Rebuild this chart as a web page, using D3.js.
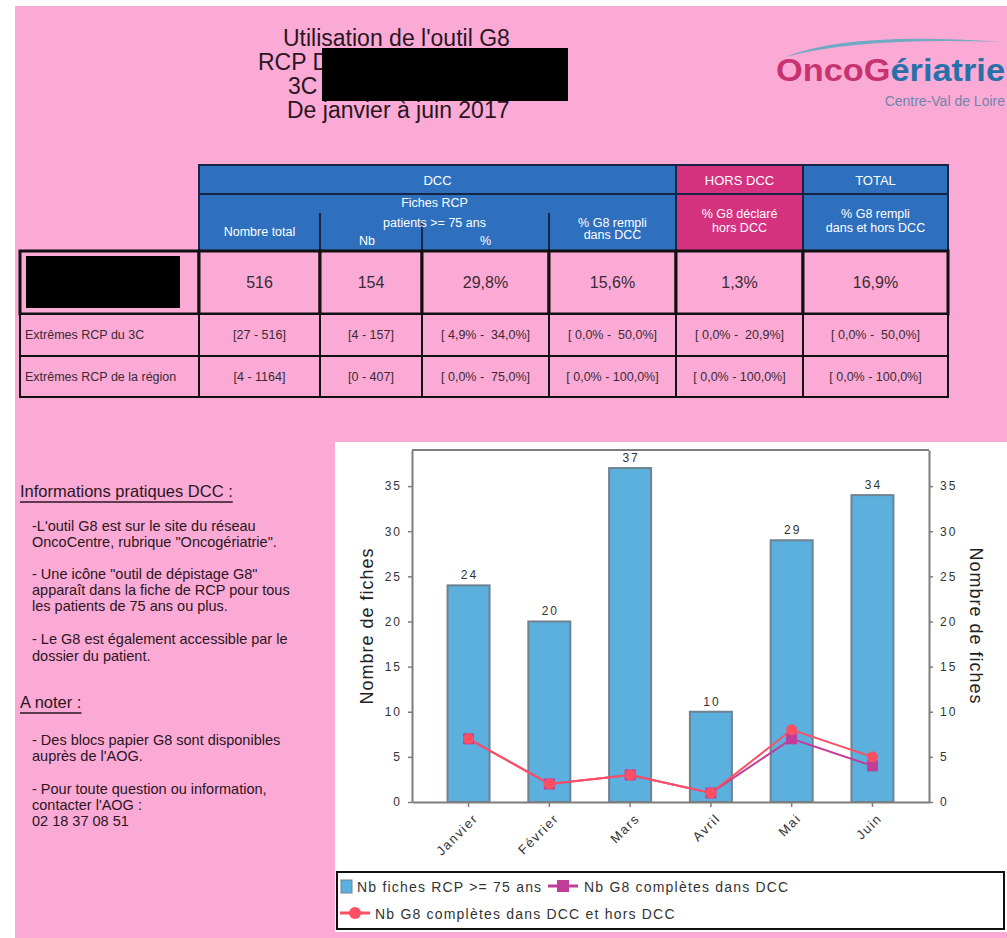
<!DOCTYPE html>
<html>
<head>
<meta charset="utf-8">
<script src="https://cdn.jsdelivr.net/npm/d3@7"></script>
<style>
body { margin: 0; background: #fff; }
text { font-family: 'Liberation Sans', Arial, sans-serif; white-space: pre; }
</style>
</head>
<body>
<svg id="page" width="1007" height="938"></svg>
<script>
// chart data
var months = ["Janvier", "Février", "Mars", "Avril", "Mai", "Juin"];
var fichesRCP = [24, 20, 37, 10, 29, 34];
var g8Dcc = [7, 2, 3, 1, 7, 4];
var g8DccHors = [7, 2, 3, 1, 8, 5];
var yTicks = [0, 5, 10, 15, 20, 25, 30, 35];
var legendLabels = ["Nb fiches RCP >= 75 ans", "Nb G8 complètes dans DCC", "Nb G8 complètes dans DCC et hors DCC"];

// table data
var rowLabels = ["", "Extrêmes RCP du 3C", "Extrêmes RCP de la région"];
var nombreTotal = ["516", "[27 - 516]", "[4 - 1164]"];
var nbPatients = ["154", "[4 - 157]", "[0 - 407]"];
var pctPatients = ["29,8%", "[ 4,9% -  34,0%]", "[ 0,0% -  75,0%]"];
var pctG8Dcc = ["15,6%", "[ 0,0% -  50,0%]", "[ 0,0% - 100,0%]"];
var pctG8Hors = ["1,3%", "[ 0,0% -  20,9%]", "[ 0,0% - 100,0%]"];
var pctG8Total = ["16,9%", "[ 0,0% -  50,0%]", "[ 0,0% - 100,0%]"];

// texts
var titleLines = ["Utilisation de l'outil G8", "RCP D", "3C", "De janvier à juin 2017"];
var infoLines = [
	"-L'outil G8 est sur le site du réseau",
	"OncoCentre, rubrique \"Oncogériatrie\".",
	"- Une icône \"outil de dépistage G8\"",
	"apparaît dans la fiche de RCP pour tous",
	"les patients de 75 ans ou plus.",
	"- Le G8 est également accessible par le",
	"dossier du patient."
];
var noteLines = [
	"- Des blocs papier G8 sont disponibles",
	"auprès de l'AOG.",
	"- Pour toute question ou information,",
	"contacter l'AOG :",
	"02 18 37 08 51"
];

var PINK = "#fbaad6",
	BLUE = "#2e70be",
	MAGENTA = "#d4327f",
	INK = "#2a1622";

var svg = d3.select("#page");

// page background
svg.append("rect")
	.attr("x", 15).attr("y", 6)
	.attr("width", 992).attr("height", 932)
	.attr("fill", PINK);

// ---------- title ----------
var titleX = [283, 258, 288, 287];
svg.selectAll("text.title")
	.data(titleLines)
	.enter()
	.append("text")
	.attr("class", "title")
	.attr("x", function(d, i) { return titleX[i]; })
	.attr("y", function(d, i) { return 46 + i * 24; })
	.style("font-size", "23px")
	.attr("fill", INK)
	.text(function(d) { return d; });

// redaction box
svg.append("rect")
	.attr("x", 322).attr("y", 48)
	.attr("width", 246).attr("height", 53)
	.attr("fill", "#000");

// ---------- logo ----------
svg.append("path")
	.attr("d", "M785,57 Q850,31 1000,42 Q860,37 785,57 Z")
	.attr("fill", "#4fa7bd")
	.attr("opacity", 0.8);

var logo = svg.append("text")
	.attr("x", 776).attr("y", 81)
	.style("font-size", "31px")
	.style("font-weight", "bold")
	.attr("textLength", 229)
	.attr("lengthAdjust", "spacingAndGlyphs");
logo.append("tspan").attr("fill", "#c7336f").text("OncoG");
logo.append("tspan").attr("fill", "#2671a8").text("ériatrie");

svg.append("text")
	.attr("x", 1005).attr("y", 106)
	.attr("text-anchor", "end")
	.style("font-size", "14px")
	.attr("fill", "#6f86a6")
	.text("Centre-Val de Loire");

// ---------- table ----------
var colX = [20, 199, 320, 422, 549, 676, 803, 948];
var rowY = [251, 314, 356, 397];
var colValues = [nombreTotal, nbPatients, pctPatients, pctG8Dcc, pctG8Hors, pctG8Total];
var headLine = "#172443";

var head1 = [
	{ label: "DCC", x0: colX[1], x1: colX[5], fill: BLUE },
	{ label: "HORS DCC", x0: colX[5], x1: colX[6], fill: MAGENTA },
	{ label: "TOTAL", x0: colX[6], x1: colX[7], fill: BLUE }
];
var head2 = [
	{ lines: ["Nombre total"], x0: colX[1], x1: colX[2], fill: BLUE, y: 236 },
	{ lines: ["Fiches RCP", "patients >= 75 ans"], x0: colX[2], x1: colX[4], fill: BLUE, y: 207, step: 20 },
	{ lines: ["% G8 rempli", "dans DCC"], x0: colX[4], x1: colX[5], fill: BLUE, y: 227, step: 12 },
	{ lines: ["% G8 déclaré", "hors DCC"], x0: colX[5], x1: colX[6], fill: MAGENTA, y: 218, step: 14 },
	{ lines: ["% G8 rempli", "dans et hors DCC"], x0: colX[6], x1: colX[7], fill: BLUE, y: 218, step: 14 }
];

svg.selectAll("rect.head1")
	.data(head1)
	.enter()
	.append("rect")
	.attr("class", "head1")
	.attr("x", function(d) { return d.x0; })
	.attr("y", 165)
	.attr("width", function(d) { return d.x1 - d.x0; })
	.attr("height", 29)
	.attr("fill", function(d) { return d.fill; })
	.attr("stroke", headLine)
	.attr("stroke-width", 2);

svg.selectAll("text.head1")
	.data(head1)
	.enter()
	.append("text")
	.attr("class", "head1")
	.attr("x", function(d) { return (d.x0 + d.x1) / 2; })
	.attr("y", 185)
	.attr("text-anchor", "middle")
	.style("font-size", "13px")
	.attr("fill", "#fff")
	.text(function(d) { return d.label; });

svg.selectAll("rect.head2")
	.data(head2)
	.enter()
	.append("rect")
	.attr("class", "head2")
	.attr("x", function(d) { return d.x0; })
	.attr("y", 194)
	.attr("width", function(d) { return d.x1 - d.x0; })
	.attr("height", 57)
	.attr("fill", function(d) { return d.fill; });

// header outline and dividers
svg.append("rect")
	.attr("x", colX[1]).attr("y", 165)
	.attr("width", colX[7] - colX[1]).attr("height", 86)
	.attr("fill", "none")
	.attr("stroke", headLine)
	.attr("stroke-width", 2);

var dividers = [
	{ x: colX[2], y0: 213 },
	{ x: colX[3], y0: 221 },
	{ x: colX[4], y0: 213 },
	{ x: colX[5], y0: 165 },
	{ x: colX[6], y0: 165 }
];
svg.selectAll("line.divider")
	.data(dividers)
	.enter()
	.append("line")
	.attr("class", "divider")
	.attr("x1", function(d) { return d.x; })
	.attr("x2", function(d) { return d.x; })
	.attr("y1", function(d) { return d.y0; })
	.attr("y2", 251)
	.attr("stroke", headLine)
	.attr("stroke-width", 2);
svg.append("line")
	.attr("x1", colX[1]).attr("x2", colX[7])
	.attr("y1", 194).attr("y2", 194)
	.attr("stroke", headLine)
	.attr("stroke-width", 2);

head2.forEach(function(d) {
	d.lines.forEach(function(line, i) {
		svg.append("text")
			.attr("x", (d.x0 + d.x1) / 2)
			.attr("y", d.y + i * (d.step || 0))
			.attr("text-anchor", "middle")
			.style("font-size", "12.5px")
			.attr("fill", "#fff")
			.text(line);
	});
});

var subHeads = [
	{ label: "Nb", x: (colX[2] + colX[3]) / 2 - 4 },
	{ label: "%", x: (colX[3] + colX[4]) / 2 }
];
svg.selectAll("text.sub")
	.data(subHeads)
	.enter()
	.append("text")
	.attr("class", "sub")
	.attr("x", function(d) { return d.x; })
	.attr("y", 245)
	.attr("text-anchor", "middle")
	.style("font-size", "12.5px")
	.attr("fill", "#fff")
	.text(function(d) { return d.label; });

// body rows
rowLabels.forEach(function(label, r) {
	var y0 = rowY[r], y1 = rowY[r + 1];
	var cells = [label].concat(colValues.map(function(col) { return col[r]; }));
	var row = svg.append("g").attr("class", "row");

	row.selectAll("rect")
		.data(cells)
		.enter()
		.append("rect")
		.attr("x", function(d, c) { return colX[c]; })
		.attr("y", y0)
		.attr("width", function(d, c) { return colX[c + 1] - colX[c]; })
		.attr("height", y1 - y0)
		.attr("fill", PINK)
		.attr("stroke", "#111")
		.attr("stroke-width", r === 0 ? 3 : 2);

	row.selectAll("text")
		.data(cells)
		.enter()
		.append("text")
		.attr("x", function(d, c) { return c === 0 ? colX[0] + 5 : (colX[c] + colX[c + 1]) / 2; })
		.attr("y", (y0 + y1) / 2)
		.attr("dy", "0.35em")
		.attr("text-anchor", function(d, c) { return c === 0 ? "start" : "middle"; })
		.style("font-size", r === 0 ? "16px" : "12.5px")
		.attr("fill", "#3a2a33")
		.text(function(d) { return d; });
});

svg.append("rect")
	.attr("x", 26).attr("y", 256)
	.attr("width", 154).attr("height", 52)
	.attr("fill", "#000");

// ---------- left info block ----------
function heading(label, y) {
	var t = svg.append("text")
		.attr("x", 20).attr("y", y)
		.style("font-size", "16.5px")
		.attr("fill", INK)
		.text(label);
	var w = t.node().getComputedTextLength();
	svg.append("line")
		.attr("x1", 20).attr("x2", 20 + w)
		.attr("y1", y + 5).attr("y2", y + 5)
		.attr("stroke", INK)
		.attr("stroke-width", 1.5);
}
heading("Informations pratiques DCC :", 497);
heading("A noter :", 708);

var infoY = [531, 547, 579, 595, 611, 644, 661];
svg.selectAll("text.info")
	.data(infoLines)
	.enter()
	.append("text")
	.attr("class", "info")
	.attr("x", 32)
	.attr("y", function(d, i) { return infoY[i]; })
	.style("font-size", "14.5px")
	.attr("fill", INK)
	.text(function(d) { return d; });

var noteY = [745, 761, 794, 810, 826];
svg.selectAll("text.note")
	.data(noteLines)
	.enter()
	.append("text")
	.attr("class", "note")
	.attr("x", 32)
	.attr("y", function(d, i) { return noteY[i]; })
	.style("font-size", "14.5px")
	.attr("fill", INK)
	.text(function(d) { return d; });

// ---------- chart ----------
svg.append("rect")
	.attr("x", 335).attr("y", 442)
	.attr("width", 672).attr("height", 490)
	.attr("fill", "#fff");

var plot = { left: 412, right: 929, top: 450, bottom: 802 };
var axisColor = "#7d7d7d";

var x = d3.scaleBand()
	.domain(months)
	.range([plot.left, plot.right])
	.paddingInner(0.48)
	.paddingOuter(0.44);

var y = d3.scaleLinear()
	.domain([0, 39])
	.range([plot.bottom, plot.top]);

var chart = svg.append("g").attr("class", "chart");

chart.selectAll("rect.bar")
	.data(fichesRCP)
	.enter()
	.append("rect")
	.attr("class", "bar")
	.attr("x", function(d, i) { return x(months[i]); })
	.attr("y", function(d) { return y(d); })
	.attr("width", x.bandwidth())
	.attr("height", function(d) { return y(0) - y(d); })
	.attr("fill", "#5cb0dd")
	.attr("stroke", "#6e8290")
	.attr("stroke-width", 2);

chart.selectAll("text.value")
	.data(fichesRCP)
	.enter()
	.append("text")
	.attr("class", "value")
	.attr("x", function(d, i) { return x(months[i]) + x.bandwidth() / 2 + 1; })
	.attr("y", function(d) { return y(d) - 6; })
	.attr("text-anchor", "middle")
	.style("font-size", "12px")
	.style("letter-spacing", "2px")
	.attr("fill", "#333")
	.text(function(d) { return d; });

function styleAxis(g) {
	g.select(".domain").attr("stroke", axisColor).attr("stroke-width", 2);
	g.selectAll(".tick line").attr("stroke", axisColor).attr("stroke-width", 1.5);
	g.selectAll(".tick text")
		.attr("fill", "#333")
		.style("font-size", "12px")
		.style("letter-spacing", "2px");
}

chart.append("g")
	.attr("transform", "translate(" + plot.left + ",0)")
	.call(d3.axisLeft(y).tickValues(yTicks).tickSize(4).tickPadding(6).tickSizeOuter(0))
	.call(styleAxis);

chart.append("g")
	.attr("transform", "translate(" + plot.right + ",0)")
	.call(d3.axisRight(y).tickValues(yTicks).tickSize(4).tickPadding(7).tickSizeOuter(0))
	.call(styleAxis);

chart.append("g")
	.attr("transform", "translate(0," + plot.bottom + ")")
	.call(d3.axisBottom(x).tickSize(5).tickSizeOuter(0))
	.call(styleAxis)
	.selectAll(".tick text")
	.attr("x", 0).attr("y", 0).attr("dy", "0.35em")
	.attr("transform", "translate(7,14) rotate(-45)")
	.style("text-anchor", "end")
	.style("font-size", "13px")
	.style("letter-spacing", "1.5px");

chart.append("line")
	.attr("x1", plot.left).attr("x2", plot.right)
	.attr("y1", plot.top).attr("y2", plot.top)
	.attr("stroke", axisColor)
	.attr("stroke-width", 2);

var cx = function(i) { return x(months[i]) + x.bandwidth() / 2; };
var line = d3.line()
	.x(function(d, i) { return cx(i); })
	.y(function(d) { return y(d); });

var dccColor = "#c23d98",
	horsColor = "#ff4f62";

chart.append("path")
	.datum(g8Dcc)
	.attr("d", line)
	.attr("fill", "none")
	.attr("stroke", dccColor)
	.attr("stroke-width", 2);

chart.append("path")
	.datum(g8DccHors)
	.attr("d", line)
	.attr("fill", "none")
	.attr("stroke", horsColor)
	.attr("stroke-width", 2);

chart.selectAll("rect.sq")
	.data(g8Dcc)
	.enter()
	.append("rect")
	.attr("class", "sq")
	.attr("x", function(d, i) { return cx(i) - 5.5; })
	.attr("y", function(d) { return y(d) - 5.5; })
	.attr("width", 11).attr("height", 11)
	.attr("fill", dccColor);

chart.selectAll("circle.dot")
	.data(g8DccHors)
	.enter()
	.append("circle")
	.attr("class", "dot")
	.attr("cx", function(d, i) { return cx(i); })
	.attr("cy", function(d) { return y(d); })
	.attr("r", 5.5)
	.attr("fill", horsColor);

// axis titles
chart.append("text")
	.attr("transform", "translate(373,626) rotate(-90)")
	.attr("text-anchor", "middle")
	.style("font-size", "18px")
	.style("letter-spacing", "1px")
	.attr("fill", "#222")
	.text("Nombre de fiches");

chart.append("text")
	.attr("transform", "translate(970,626) rotate(90)")
	.attr("text-anchor", "middle")
	.style("font-size", "18px")
	.style("letter-spacing", "1px")
	.attr("fill", "#222")
	.text("Nombre de fiches");

// ---------- legend ----------
var legend = svg.append("g").attr("class", "legend");
legend.append("rect")
	.attr("x", 337).attr("y", 872)
	.attr("width", 667).attr("height", 57)
	.attr("fill", "#fff")
	.attr("stroke", "#111")
	.attr("stroke-width", 2);

legend.append("rect")
	.attr("x", 341).attr("y", 880)
	.attr("width", 11).attr("height", 13)
	.attr("fill", "#5cb0dd")
	.attr("stroke", "#6e8290");

legend.append("line")
	.attr("x1", 548).attr("x2", 578)
	.attr("y1", 886).attr("y2", 886)
	.attr("stroke", dccColor).attr("stroke-width", 3);
legend.append("rect")
	.attr("x", 557).attr("y", 880)
	.attr("width", 12).attr("height", 12)
	.attr("fill", dccColor);

legend.append("line")
	.attr("x1", 340).attr("x2", 370)
	.attr("y1", 913).attr("y2", 913)
	.attr("stroke", horsColor).attr("stroke-width", 3);
legend.append("circle")
	.attr("cx", 355).attr("cy", 913)
	.attr("r", 6)
	.attr("fill", horsColor);

var legendPos = [[357, 887], [584, 887], [375, 914]];
legend.selectAll("text")
	.data(legendLabels)
	.enter()
	.append("text")
	.attr("x", function(d, i) { return legendPos[i][0]; })
	.attr("y", function(d, i) { return legendPos[i][1]; })
	.attr("dy", "0.35em")
	.style("font-size", "14px")
	.style("letter-spacing", "1.2px")
	.attr("fill", "#333")
	.text(function(d) { return d; });
</script>
</body>
</html>
